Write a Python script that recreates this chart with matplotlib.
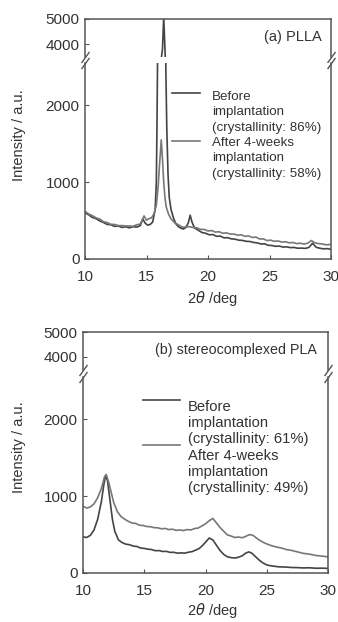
import matplotlib
matplotlib.use("Agg")
import matplotlib.pyplot as plt
from matplotlib.lines import Line2D

plt.rcParams['font.family'] = ['Liberation Sans', 'DejaVu Sans']
plt.rcParams['mathtext.fontset'] = 'dejavusans'

# Data
# (a) PLLA
a_before_x = [10.0, 10.3, 10.6, 10.9, 11.2, 11.5, 11.8, 12.1, 12.4, 12.7, 13.0, 13.3, 13.6, 13.9,
              14.2, 14.5, 14.7, 14.9, 15.1, 15.3, 15.5, 15.7, 15.8, 15.85, 15.9, 16.0, 16.1, 16.2,
              16.3, 16.4, 16.47, 16.53, 16.57, 16.65, 16.75, 16.85, 17.0, 17.2, 17.4, 17.6, 17.8,
              18.0, 18.2, 18.4, 18.55, 18.7, 18.9, 19.2, 19.5, 19.8, 20.1, 20.4, 20.7, 21.0, 21.3,
              21.6, 21.9, 22.2, 22.5, 22.8, 23.1, 23.4, 23.7, 24.0, 24.3, 24.6, 24.9, 25.2, 25.5,
              25.8, 26.1, 26.4, 26.7, 27.0, 27.3, 27.6, 27.9, 28.2, 28.5, 28.8, 29.1, 29.4, 29.7, 30.0]
a_before_y = [600, 575, 540, 525, 495, 475, 450, 445, 425, 430, 410, 420, 405, 420,
              415, 435, 520, 465, 440, 450, 480, 640, 1000, 1700, 2600, 3100, 3300, 3400,
              3800, 5100, 4200, 3400, 2500, 1700, 1100, 800, 640, 530, 455, 420, 400,
              390, 410, 470, 570, 480, 405, 375, 345, 335, 315, 318, 295, 298, 275,
              278, 262, 258, 245, 242, 230, 228, 215, 210, 195, 198, 178, 176, 165,
              168, 155, 158, 148, 150, 140, 142, 138, 150, 205, 152, 140, 132, 135, 125]

a_after_x = [10.0, 10.3, 10.6, 10.9, 11.2, 11.5, 11.8, 12.1, 12.4, 12.7, 13.0, 13.3, 13.6, 13.9,
             14.2, 14.5, 14.8, 15.0, 15.2, 15.4, 15.6, 15.8, 15.95, 16.05, 16.2, 16.3, 16.4, 16.5,
             16.6, 16.8, 17.0, 17.3, 17.6, 17.9, 18.2, 18.5, 18.8, 19.1, 19.4, 19.7, 20.0, 20.3,
             20.6, 20.9, 21.2, 21.5, 21.8, 22.1, 22.4, 22.7, 23.0, 23.3, 23.6, 23.9, 24.2, 24.5,
             24.8, 25.1, 25.4, 25.7, 26.0, 26.3, 26.6, 26.9, 27.2, 27.5, 27.8, 28.1, 28.4, 28.7,
             29.0, 29.3, 29.6, 30.0]
a_after_y = [620, 585, 565, 535, 520, 485, 475, 450, 450, 435, 435, 430, 430, 425,
             445, 455, 560, 505, 525, 535, 585, 700, 950, 1200, 1550, 1300, 1000, 800,
             680, 580, 520, 470, 445, 415, 415, 420, 410, 405, 385, 385, 365, 370,
             350, 355, 335, 340, 325, 325, 310, 315, 295, 300, 280, 285, 260, 262,
             240, 245, 230, 235, 220, 225, 210, 215, 200, 205, 195, 205, 240, 210,
             200, 195, 185, 190]

# (b) stereocomplexed PLA
b_before_x = [10.0, 10.3, 10.6, 10.9, 11.2, 11.5, 11.7, 11.85, 12.0, 12.2, 12.4, 12.6, 12.9,
              13.2, 13.5, 13.8, 14.1, 14.4, 14.7, 15.0, 15.3, 15.6, 15.9, 16.2, 16.5, 16.8,
              17.1, 17.4, 17.7, 18.0, 18.3, 18.6, 18.9, 19.2, 19.5, 19.8, 20.0, 20.3, 20.6,
              20.9, 21.2, 21.5, 21.8, 22.1, 22.4, 22.7, 23.0, 23.3, 23.55, 23.8, 24.1, 24.4,
              24.7, 25.0, 25.3, 25.6, 26.0, 26.5, 27.0, 27.5, 28.0, 28.5, 29.0, 29.5, 30.0]
b_before_y = [470, 462, 490, 560, 700, 930, 1150, 1270, 1200, 950, 700, 540, 430,
              395, 375, 368, 350, 345, 325, 320, 310, 305, 290, 292, 280, 282,
              268, 270, 258, 262, 258, 270, 278, 298, 320, 365, 400, 455, 430,
              360, 290, 240, 210, 200, 195, 205, 225, 260, 275, 255, 210, 165,
              130, 105, 95, 88, 80, 78, 72, 70, 66, 68, 62, 63, 60]

b_after_x = [10.0, 10.3, 10.6, 10.9, 11.2, 11.5, 11.75, 11.9, 12.1, 12.3, 12.5, 12.8, 13.1,
             13.4, 13.7, 14.0, 14.3, 14.6, 14.9, 15.2, 15.5, 15.8, 16.1, 16.4, 16.7, 17.0,
             17.3, 17.6, 17.9, 18.2, 18.5, 18.8, 19.1, 19.4, 19.7, 20.0, 20.3, 20.6, 20.9,
             21.2, 21.5, 21.8, 22.1, 22.4, 22.7, 23.0, 23.3, 23.6, 23.9, 24.2, 24.5, 24.8,
             25.1, 25.4, 25.8, 26.2, 26.6, 27.0, 27.5, 28.0, 28.5, 29.0, 29.5, 30.0]
b_after_y = [870, 845, 860, 900, 980, 1100, 1250, 1280, 1180, 1050, 920, 800, 735,
             700, 672, 650, 645, 622, 618, 605, 602, 590, 588, 575, 580, 565,
             570, 555, 560, 552, 565, 560, 578, 585, 612, 640, 680, 710, 650,
             590, 540, 495, 480, 462, 468, 458, 478, 500, 488, 450, 418, 392,
             372, 355, 338, 325, 305, 295, 275, 255, 245, 228, 220, 210]

c_before = '#444444'
c_after = '#777777'
txt = '#333333'

W, H = 338, 622


def fx(x):
    return x / W


def fy(y):
    return 1 - y / H


fig = plt.figure(figsize=(W / 100, H / 100), dpi=100)


def make_panel(left, right, top_up, bot_up, top_lo, bot_lo, before, after):
    ax_up = fig.add_axes([fx(left), fy(bot_up), fx(right - left), fy(top_up) - fy(bot_up)])
    ax_lo = fig.add_axes([fx(left), fy(bot_lo), fx(right - left), fy(top_lo) - fy(bot_lo)])
    for ax in (ax_up, ax_lo):
        ax.plot(before[0], before[1], color=c_before, lw=1.2)
        ax.plot(after[0], after[1], color=c_after, lw=1.2)
        ax.set_xlim(10, 30)
        for s in ax.spines.values():
            s.set_color('#555555')
            s.set_linewidth(1.1)
        ax.tick_params(direction='in', length=3, colors='#555555', labelcolor=txt,
                       labelsize=11, right=False, top=False)
    ax_up.set_ylim(3500, 5000)
    ax_up.set_yticks([4000, 5000])
    ax_up.spines['bottom'].set_visible(False)
    ax_up.tick_params(bottom=False, labelbottom=False)
    ax_lo.set_ylim(0, 2550)
    ax_lo.set_yticks([0, 1000, 2000])
    ax_lo.set_xticks([10, 15, 20, 25, 30])
    ax_lo.spines['top'].set_visible(False)
    ax_lo.tick_params(axis='x', pad=8)
    ax_up.tick_params(axis='y', pad=4)
    ax_lo.tick_params(axis='y', pad=4)

    # break marks
    kw = dict(marker=[(-1, -1.4), (1, 1.4)], markersize=8, linestyle='none',
              color='#555555', mec='#555555', mew=1, clip_on=False)
    ax_up.plot([0, 1], [0, 0], transform=ax_up.transAxes, **kw)
    ax_lo.plot([0, 1], [1, 1], transform=ax_lo.transAxes, **kw)
    return ax_up, ax_lo


make_panel(85, 331, 19, 56.5, 63, 259,
           (a_before_x, a_before_y), (a_after_x, a_after_y))
make_panel(83, 328, 332, 369.5, 377, 573,
           (b_before_x, b_before_y), (b_after_x, b_after_y))

# panel titles
fig.text(fx(322), fy(37), '(a) PLLA', ha='right', va='center', fontsize=10.5, color=txt)
fig.text(fx(317), fy(350), '(b) stereocomplexed PLA', ha='right', va='center',
         fontsize=10.3, color=txt)

# legends
legend_a = ['Before', 'implantation', '(crystallinity: 86%)',
            'After 4-weeks', 'implantation', '(crystallinity: 58%)']
legend_a_y = [97, 112, 128, 143, 158, 174]
for s, y in zip(legend_a, legend_a_y):
    fig.text(fx(212), fy(y), s, ha='left', va='center', fontsize=9.6, color=txt)
fig.add_artist(Line2D([fx(172), fx(200)], [fy(93), fy(93)], color=c_before, lw=1.2))
fig.add_artist(Line2D([fx(172), fx(200)], [fy(141), fy(141)], color=c_after, lw=1.2))

legend_b = ['Before', 'implantation', '(crystallinity: 61%)',
            'After 4-weeks', 'implantation', '(crystallinity: 49%)']
legend_b_y = [407, 423, 439, 456, 472, 488]
for s, y in zip(legend_b, legend_b_y):
    fig.text(fx(188), fy(y), s, ha='left', va='center', fontsize=10.6, color=txt)
fig.add_artist(Line2D([fx(143), fx(180)], [fy(400), fy(400)], color=c_before, lw=1.2))
fig.add_artist(Line2D([fx(143), fx(180)], [fy(445), fy(445)], color=c_after, lw=1.2))

# axis labels
for yc in (135, 447):
    fig.text(fx(19), fy(yc), 'Intensity / a.u.', rotation=90, ha='center', va='center',
             fontsize=10.5, color=txt)
for yc in (298, 610):
    fig.text(fx(212), fy(yc), r'2$\theta$ /deg', ha='center', va='center',
             fontsize=10.5, color=txt)

fig.savefig('out.png', dpi=100, facecolor='white')
